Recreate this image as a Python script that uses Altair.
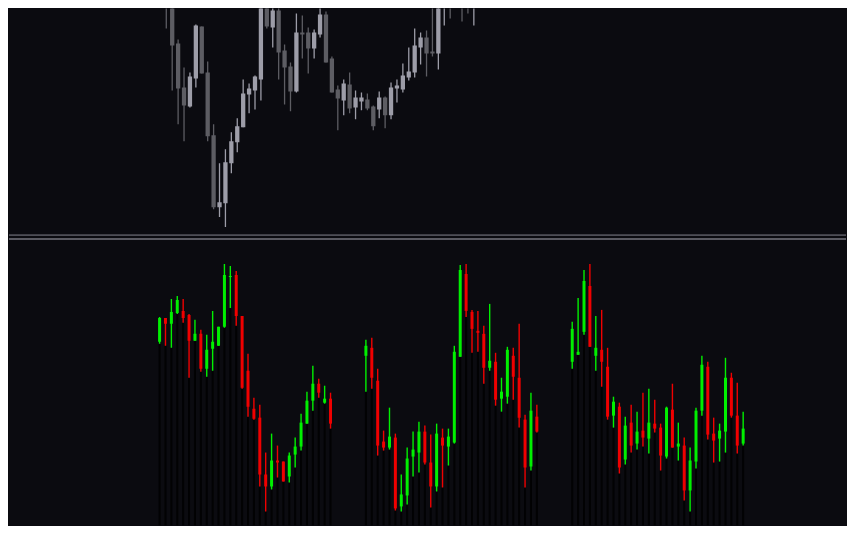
import altair as alt
import numpy as np
import pandas as pd

BG = "#0b0b10"

# ---- top panel: price candles (grey) ----
top_open = [264, 244, 191, 147, 128, 156, 208, 162, 99, 27, 31, 71, 92, 107, 140, 144, 155, 239, 207, 224,
            184, 168, 143, 202, 202, 186, 200, 220, 176, 145, 134, 150, 127, 133, 135, 128, 125, 137, 119, 146,
            145, 157, 162, 187, 197, 183, 181, 231, 240, 238, 232, 231, 227, 230]
top_high = [280, 254, 195, 167, 162, 210, 208, 173, 110, 71, 85, 102, 116, 155, 151, 159, 240, 242, 229, 236,
            190, 172, 221, 219, 207, 205, 232, 223, 178, 149, 155, 162, 144, 142, 141, 129, 143, 138, 152, 155,
            171, 187, 206, 202, 204, 236, 236, 240, 244, 242, 238, 234, 236, 240]
top_low = [206, 144, 110, 93, 127, 147, 161, 93, 25, 17, 7, 61, 82, 107, 121, 125, 134, 206, 187, 155,
           130, 123, 142, 176, 161, 176, 197, 172, 142, 104, 119, 121, 115, 124, 124, 104, 116, 106, 115, 132,
           142, 154, 157, 170, 158, 178, 165, 209, 216, 229, 213, 221, 209, 227]
top_close = [237, 189, 146, 129, 158, 209, 161, 98, 27, 32, 72, 93, 108, 141, 146, 158, 237, 208, 224, 182,
             167, 143, 202, 200, 186, 202, 220, 172, 142, 136, 151, 126, 137, 137, 126, 108, 137, 119, 147, 149,
             159, 163, 189, 197, 181, 181, 232, 237, 231, 232, 227, 227, 231, 236]

# ---- bottom panel: three blocks of 30 oscillator candles ----
osc_block_start = [0, 35, 70]
osc_open = [184, 208, 202, 213, 215, 211, 185, 192, 157, 177, 180, 199, 249, 251, 210, 155, 117, 108, 51, 39,
            65, 64, 49, 71, 79, 102, 125, 142, 123, 127,
            170, 178, 145, 84, 78, 88, 19, 30, 69, 73, 94, 63, 39, 88, 79, 83, 169, 252, 214, 195,
            192, 158, 164, 127, 129, 170, 148, 106, 59, 109,
            164, 171, 194, 240, 170, 176, 159, 110, 119, 66, 103, 82, 95, 87, 102, 98, 69, 116, 79, 80,
            35, 64, 115, 159, 92, 87, 94, 148, 110, 82]
osc_high = [209, 208, 227, 230, 227, 212, 206, 196, 191, 215, 199, 262, 260, 255, 210, 172, 128, 121, 73, 92,
            80, 64, 73, 88, 112, 134, 160, 147, 140, 133,
            186, 188, 157, 95, 118, 92, 51, 78, 94, 104, 100, 91, 102, 97, 97, 180, 261, 262, 216, 215,
            200, 222, 173, 148, 179, 178, 202, 111, 133, 121,
            204, 228, 256, 262, 210, 216, 178, 129, 123, 109, 121, 114, 133, 137, 126, 102, 119, 142, 103, 88,
            78, 118, 170, 164, 108, 102, 168, 153, 143, 114]
osc_low = [182, 180, 178, 212, 203, 148, 185, 154, 149, 155, 180, 198, 218, 200, 137, 109, 106, 39, 14, 36,
           48, 44, 43, 58, 75, 102, 115, 128, 122, 97,
           134, 137, 70, 75, 76, 15, 14, 21, 49, 53, 61, 18, 34, 38, 60, 82, 169, 209, 173, 174,
           142, 155, 120, 114, 122, 126, 98, 38, 55, 93,
           157, 171, 191, 179, 155, 139, 106, 98, 52, 61, 73, 76, 79, 72, 93, 55, 67, 78, 65, 25,
           14, 57, 110, 86, 63, 64, 73, 108, 72, 80]
osc_close = [208, 202, 214, 226, 208, 185, 192, 157, 176, 184, 199, 251, 250, 210, 138, 119, 107, 51, 39, 65,
             63, 44, 70, 79, 103, 125, 142, 133, 127, 102,
             180, 148, 80, 78, 89, 17, 31, 67, 76, 94, 63, 39, 92, 80, 89, 174, 256, 215, 197, 193,
             158, 165, 126, 134, 176, 149, 108, 58, 115, 94,
             197, 174, 245, 179, 178, 164, 109, 124, 58, 100, 80, 94, 88, 103, 97, 70, 118, 78, 82, 35,
             65, 115, 161, 91, 85, 95, 148, 110, 80, 97]
BLOCK_LEN = 30

top = pd.DataFrame({"bar": np.arange(len(top_open)), "open": top_open, "high": top_high,
                    "low": top_low, "close": top_close})
top["price_dir"] = np.where(top["close"] >= top["open"], "up", "down")

osc_bar = [s + j for s in osc_block_start for j in range(BLOCK_LEN)]
osc = pd.DataFrame({"idx": osc_bar, "o": osc_open, "h": osc_high,
                    "l": osc_low, "c": osc_close})
osc["osc_dir"] = np.where(osc["c"] >= osc["o"], "up", "down")

W = 839
H_TOP = 226
H_BOT = 292

# top panel
tx = alt.X("bar:Q", axis=None, scale=alt.Scale(domain=[-25.75, 114.08], nice=False, zero=False))
tscale = alt.Scale(domain=[0, 226], nice=False, zero=False)
tcolor = alt.Color("price_dir:N", legend=None,
                   scale=alt.Scale(domain=["up", "down"], range=["#9d9da8", "#5d5d63"]))
t_wick = alt.Chart(top).mark_rule(strokeWidth=1.3, clip=True).encode(
    x=tx, y=alt.Y("low:Q", axis=None, scale=tscale), y2="high:Q", color=tcolor)
t_body = alt.Chart(top).mark_bar(size=4.3, clip=True).encode(
    x=tx, y=alt.Y("open:Q", axis=None, scale=tscale), y2="close:Q", color=tcolor)
top_chart = alt.layer(t_wick, t_body).properties(width=W, height=H_TOP)

# bottom panel
bx = alt.X("idx:Q", axis=None, scale=alt.Scale(domain=[-24.7, 115.6], nice=False, zero=False))
bscale = alt.Scale(domain=[0, 292], nice=False, zero=False)
bcolor = alt.Color("osc_dir:N", legend=None,
                   scale=alt.Scale(domain=["up", "down"], range=["#00f000", "#f00000"]))
b_col = alt.Chart(osc).mark_bar(size=2, color="#020203", clip=True).encode(
    x=bx, y=alt.Y("l:Q", axis=None, scale=bscale))
b_wick = alt.Chart(osc).mark_rule(strokeWidth=1.4, clip=True).encode(
    x=bx, y=alt.Y("l:Q", axis=None, scale=bscale), y2="h:Q", color=bcolor)
b_body = alt.Chart(osc).mark_bar(size=3, clip=True).encode(
    x=bx, y=alt.Y("o:Q", axis=None, scale=bscale), y2="c:Q", color=bcolor)

sep_df = pd.DataFrame({"line": ["upper", "lower"]})
sep1 = alt.Chart(sep_df).transform_filter(alt.datum.line == "upper").mark_rule(
    color="#85858d", strokeWidth=1).encode(y=alt.value(1), x=alt.value(0), x2=alt.value(W))
sep2 = alt.Chart(sep_df).transform_filter(alt.datum.line == "lower").mark_rule(
    color="#5a5a62", strokeWidth=2).encode(y=alt.value(5), x=alt.value(0), x2=alt.value(W))

bottom_chart = alt.layer(b_col, b_wick, b_body, sep1, sep2).properties(width=W, height=H_BOT)

chart = alt.vconcat(top_chart, bottom_chart, spacing=0).resolve_scale(
    color="independent", x="independent", y="independent"
).properties(
    padding=0, background=BG
).configure_view(strokeWidth=0, fill=BG)

chart.save("out.html", embed_options={"renderer": "svg", "actions": False})
